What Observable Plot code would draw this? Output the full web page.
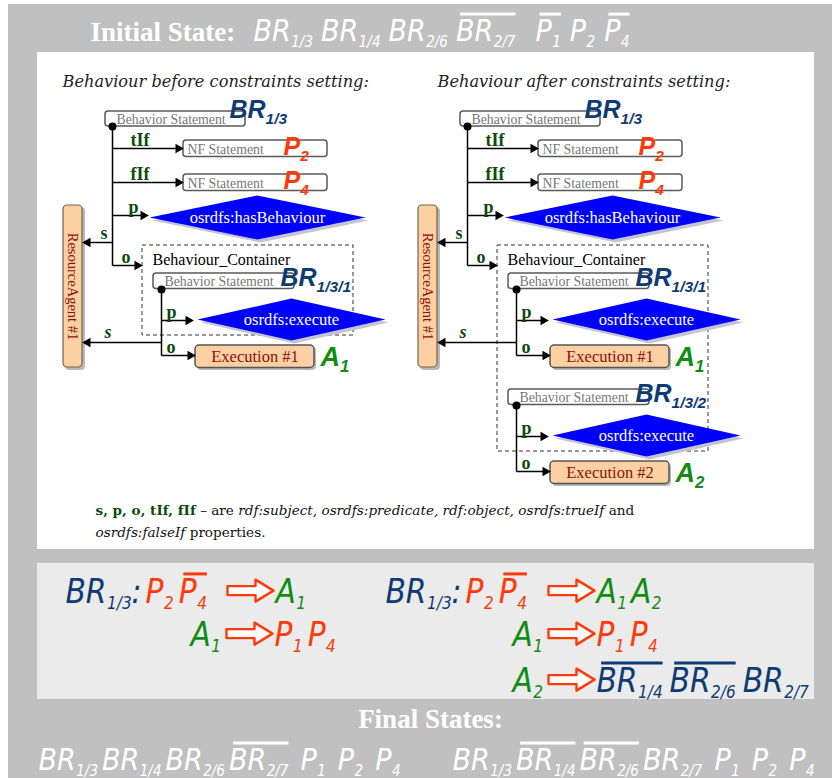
<!DOCTYPE html>
<html><head><meta charset="utf-8">
<script src="https://cdn.jsdelivr.net/npm/d3@7"></script>
<script src="https://cdn.jsdelivr.net/npm/@observablehq/plot@0.6"></script>
<style>html,body{margin:0;padding:0;background:#fff}#chart svg{display:block}</style>
</head><body><div id="chart"></div>
<script>
// ================= content (text / categories) =================
const headerTitle = "Initial State:";
const initialState = [
  {b:"BR", s:"1/3"}, {b:"BR", s:"1/4"}, {b:"BR", s:"2/6"}, {b:"BR", s:"2/7", neg:true},
  {b:"P", s:"1", neg:true}, {b:"P", s:"2"}, {b:"P", s:"4", neg:true}
];
const finalTitle = "Final States:";
const finalLeft = [
  {b:"BR", s:"1/3"}, {b:"BR", s:"1/4"}, {b:"BR", s:"2/6"}, {b:"BR", s:"2/7", neg:true},
  {b:"P", s:"1"}, {b:"P", s:"2"}, {b:"P", s:"4"}
];
const finalRight = [
  {b:"BR", s:"1/3"}, {b:"BR", s:"1/4", neg:true}, {b:"BR", s:"2/6", neg:true}, {b:"BR", s:"2/7"},
  {b:"P", s:"1"}, {b:"P", s:"2"}, {b:"P", s:"4"}
];
const panelTitles = ["Behaviour before constraints setting:", "Behaviour after constraints setting:"];
const stmtText = "Behavior Statement";
const nfText = "NF Statement";
const containerText = "Behaviour_Container";
const agentText = "ResourceAgent #1";
const predicateTop = "osrdfs:hasBehaviour";
const predicateInner = "osrdfs:execute";
const topRule = {b:"BR", s:"1/3"};
const nfConditions = [{lab:"tIf", tok:{b:"P", s:"2"}}, {lab:"fIf", tok:{b:"P", s:"4"}}];
// inner behaviour statements per diagram (before / after)
const innerStatements = [
  [{s:"1/3/1", exec:"Execution #1", a:"1"}],
  [{s:"1/3/1", exec:"Execution #1", a:"1"}, {s:"1/3/2", exec:"Execution #2", a:"2"}]
];
const rulesLeft = [
  [{b:"BR", s:"1/3", suf:":"}, {b:"P", s:"2"}, {b:"P", s:"4", neg:true}, "=>", {b:"A", s:"1"}],
  [{b:"A", s:"1"}, "=>", {b:"P", s:"1"}, {b:"P", s:"4"}]
];
const rulesRight = [
  [{b:"BR", s:"1/3", suf:":"}, {b:"P", s:"2"}, {b:"P", s:"4", neg:true}, "=>", {b:"A", s:"1"}, {b:"A", s:"2"}],
  [{b:"A", s:"1"}, "=>", {b:"P", s:"1"}, {b:"P", s:"4"}],
  [{b:"A", s:"2"}, "=>", {b:"BR", s:"1/4", neg:true}, {b:"BR", s:"2/6", neg:true}, {b:"BR", s:"2/7"}]
];
const footnote = [
  [{t:"s, p, o, tIf, fIf", k:"b"}, {t:" \u2013 are ", k:"r"}, {t:"rdf:subject, osrdfs:predicate, rdf:object, osrdfs:trueIf", k:"i"}, {t:" and", k:"r"}],
  [{t:"osrdfs:falseIf", k:"i"}, {t:" properties.", k:"r"}]
];

// ================= styling / layout =================
const W = 832, H = 778;
const C = {gray:"#c0c0c0", light:"#ebebeb", blue:"#0e3b74", red:"#ff3a0a", green:"#128c14",
           lab:"#0b4a0b", dred:"#8b1010", peach:"#fbd0a2", box:"#5a5a5a"};
const SERIF = "'Liberation Serif','Times New Roman',serif";
const DSERIF = "'DejaVu Serif',serif";
const SANS = "'Liberation Sans',Arial,sans-serif";
const NARROW = "'Liberation Sans Narrow','DejaVu Sans Condensed','Arial Narrow',sans-serif";
const tokColor = {B:C.blue, P:C.red, A:C.green};

const ctx = document.createElement("canvas").getContext("2d");
const fontStr = f => `${f.st||"normal"} ${f.wt||"normal"} ${f.fs}px ${f.fam}`;
const tw = (t, f) => { ctx.font = fontStr(f); return ctx.measureText(t).width; };

const texts = [], lines = [], overs = [], heads = [], dots = [], polys = [];
const rects = {bg:[], white:[], light:[], stmt:[], exec:[], agent:[], cont:[], shade:[]};
const addText = o => texts.push(o);

const ARROW_W = 46;
const ARROW_SHAPE = [[0,-4.5],[28,-4.5],[28,-11],[46,0],[28,11],[28,4.5],[0,4.5]];
let polyId = 0;
function addPoly(pts, kind){ const id = polyId++; pts.forEach(([x,y]) => polys.push({id, kind, x, y})); }

function expr(items, x0, yb, f, arrowX){
  let x = x0;
  items.forEach((it, i) => {
    const prev = items[i-1];
    if (i > 0){
      if (it === "=>") x = arrowX;
      else if (prev === "=>") x += f.gapAfterArrow;
      else if (prev.b !== it.b) x += f.groupGap;
      else x += f.gaps[it.b];
    }
    if (it === "=>"){
      const cy = yb - f.fs*0.36;
      addPoly(ARROW_SHAPE.map(([dx,dy]) => [x+dx, cy+dy]), "arrow");
      x += ARROW_W; return;
    }
    const c = f.color || tokColor[it.b[0]];
    const main = {fam:f.fam, st:f.st, wt:f.wt, fs:f.fs};
    const sub = {...main, fs:f.sub};
    addText({x, y:yb, t:it.b, c, ...main});
    let xe = x + tw(it.b, main);
    if (it.s){ addText({x:xe+f.subDx, y:yb+f.subDy, t:it.s, c, ...sub}); xe += f.subDx + tw(it.s, sub); }
    if (it.suf){ addText({x:xe, y:yb, t:it.suf, c, ...main}); xe += tw(it.suf, main); }
    if (it.neg){ const oy = yb - f.fs*0.73 - 4.5; overs.push({x1:x + f.fs*0.14, x2:xe, y1:oy, y2:oy, c}); }
    x = xe;
  });
}

const HEAD = {fam:NARROW, st:"italic", wt:"normal", fs:30, sub:15, subDx:0.5, subDy:6, gaps:{BR:8, P:9}, groupGap:20, color:"#fff"};
const FINAL = {...HEAD, gaps:{BR:4, P:12}, groupGap:12};
const FORM = {fam:NARROW, st:"italic", wt:"normal", fs:33, sub:17, subDx:0.5, subDy:6, gaps:{BR:7, P:5, A:4}, groupGap:4, gapAfterArrow:2};
const DIAG = {fam:SANS, st:"italic", wt:"bold", fs:24, sub:15, subDx:0, subDy:6, gaps:{}, groupGap:0};

// ---- frame ----
rects.bg.push({x1:8, y1:4, x2:W, y2:H});
rects.white.push({x1:37, y1:52, x2:814, y2:549});
rects.light.push({x1:37, y1:563, x2:814, y2:699});

// ---- header ----
addText({x:90, y:40, t:headerTitle, c:"#fff", fam:SERIF, wt:"bold", fs:27});
expr(initialState, 253, 40, HEAD);

// ---- helpers ----
function branch(x1, y, x2){ lines.push({x1, y1:y, x2:x2-5, y2:y}); heads.push({x:x2-5.2, y, r:90}); }
function branchLeft(x1, y, x2){ lines.push({x1, y1:y, x2:x2+5, y2:y}); heads.push({x:x2+5.2, y, r:-90}); }
function diamond(cx, cy, hw, hh, label){
  addPoly([[cx-hw+3,cy+3],[cx+3,cy-hh+3],[cx+hw+3,cy+3],[cx+3,cy+hh+3]], "shadow");
  addPoly([[cx-hw,cy],[cx,cy-hh],[cx+hw,cy],[cx,cy+hh]], "diamond");
  addText({x:cx, y:cy, t:label, c:"#fff", fam:SERIF, fs:16.5, anchor:"middle", line:"middle"});
}
function labelTok(tok, x, yb, fs){ expr([tok], x, yb, {...DIAG, fs, sub:fs*0.62}); }
function propLabel(t, x, yb){ addText({x, y:yb, t, c:C.lab, fam:SERIF, wt:"bold", fs:18}); }

// ---- diagrams ----
const titleX = [62, 437];
function diagram(side, dx){
  const X = v => v + dx;
  addText({x:titleX[side], y:86, t:panelTitles[side], c:"#222", fam:DSERIF, st:"italic", fs:16.2});
  // top behaviour statement
  rects.stmt.push({x1:X(105), y1:111, x2:X(245), y2:126});
  addText({x:X(116), y:123.5, t:stmtText, c:"#777", fam:SERIF, fs:13.8});
  labelTok(topRule, X(229), 117, 25);
  dots.push({x:X(112), y:126});
  lines.push({x1:X(112), y1:126, x2:X(112), y2:265});
  // NF conditions
  nfConditions.forEach((nf, i) => {
    const y = 148 + i*34;
    branch(X(112), y, X(183));
    propLabel(nf.lab, X(130), y-3);
    rects.stmt.push({x1:X(183), y1:y-8, x2:X(327), y2:y+8.5});
    addText({x:X(187), y:y+5, t:nfText, c:"#777", fam:SERIF, fs:13.8});
    labelTok(nf.tok, X(283), y+6, 25);
  });
  // predicate
  branch(X(112), 215, X(148));
  propLabel("p", X(128), 212);
  diamond(X(257), 217, 108, 22, predicateTop);
  // subject -> agent
  branchLeft(X(112), 242, X(82));
  propLabel("s", X(100), 238);
  rects.shade.push({x1:X(65), y1:207, x2:X(85), y2:370});
  rects.agent.push({x1:X(63), y1:205, x2:X(82), y2:367});
  addText({x:X(72.5), y:286, t:agentText, c:C.dred, fam:SERIF, fs:14.5, anchor:"middle", line:"middle", rot:90});
  // object -> container
  branch(X(112), 265, X(142));
  propLabel("o", X(121), 262);
  const inner = innerStatements[side];
  const last = 273 + (inner.length-1)*116;
  rects.cont.push({x1:X(142), y1:245, x2:X(353), y2:last+62});
  addText({x:X(152), y:264, t:containerText, c:"#000", fam:SERIF, fs:16});
  inner.forEach((st, k) => {
    const y0 = 273 + k*116;
    rects.stmt.push({x1:X(153), y1:y0, x2:X(294), y2:y0+15.5});
    addText({x:X(164), y:y0+12.5, t:stmtText, c:"#777", fam:SERIF, fs:13.8});
    labelTok({b:"BR", s:st.s}, X(280), y0+12, 25);
    dots.push({x:X(161), y:y0+16});
    lines.push({x1:X(161), y1:y0+16, x2:X(161), y2:y0+82});
    branch(X(161), y0+47, X(193));
    propLabel("p", X(166), y0+44);
    diamond(X(291), y0+46, 94, 21, predicateInner);
    if (k === 0){
      branchLeft(X(161), y0+69, X(82));
      addText({x:X(104), y:y0+64, t:"s", c:C.lab, fam:SERIF, wt:"bold", st:"italic", fs:18});
    }
    branch(X(161), y0+82, X(195));
    propLabel("o", X(166), y0+79);
    rects.shade.push({x1:X(197), y1:y0+74, x2:X(316), y2:y0+97});
    rects.exec.push({x1:X(195), y1:y0+72, x2:X(314), y2:y0+94.5});
    addText({x:X(254.5), y:y0+83.5, t:st.exec, c:C.dred, fam:SERIF, fs:16.5, anchor:"middle", line:"middle"});
    labelTok({b:"A", s:st.a}, X(320), y0+92, 27);
  });
}
diagram(0, 0);
diagram(1, 355);

// ---- footnote ----
footnote.forEach((line, li) => {
  let x = 95; const y = 514 + li*22;
  line.forEach(seg => {
    const f = {fam:DSERIF, fs:13.6, wt: seg.k==="b" ? "bold" : "normal", st: seg.k==="i" ? "italic" : "normal"};
    addText({x, y, t:seg.t, c: seg.k==="b" ? C.lab : "#111", ...f});
    x += tw(seg.t, f);
  });
});

// ---- rules (light panel) ----
expr(rulesLeft[0], 65, 602, FORM, 227);
expr(rulesLeft[1], 190, 645, FORM, 226);
expr(rulesRight[0], 385, 602, FORM, 548);
expr(rulesRight[1], 512, 645, FORM, 548);
expr(rulesRight[2], 512, 691, FORM, 548);

// ---- final states ----
addText({x:430, y:727, t:finalTitle, c:"#fff", fam:SERIF, wt:"bold", fs:27, anchor:"middle"});
expr(finalLeft, 38, 769, FINAL);
expr(finalRight, 452, 769, FINAL);

// ================= plot =================
function textMarks(recs){
  const groups = d3.group(recs, d => [d.fam, d.st||"normal", d.wt||"normal", d.anchor||"start", d.line||"bottom", d.rot||0].join("|"));
  return Array.from(groups, ([k, arr]) => {
    const [fam, st, wt, anchor, line, rot] = k.split("|");
    return Plot.text(arr, {x:"x", y:"y", text:"t", fill:"c", fontSize:"fs", fontFamily:fam, fontStyle:st,
      fontWeight:wt, textAnchor:anchor, lineAnchor:line, rotate:+rot});
  });
}
const R = (data, o) => Plot.rect(data, {x1:"x1", y1:"y1", x2:"x2", y2:"y2", ...o});

const chart = Plot.plot({
  width: W, height: H, margin: 0,
  x: {type:"identity", axis:null}, y: {type:"identity", axis:null}, color: {type:"identity"},
  style: {background:"#fff"},
  marks: [
    R(rects.bg, {fill:C.gray}),
    R(rects.white, {fill:"#fff"}),
    R(rects.light, {fill:C.light}),
    R(rects.cont, {fill:"none", stroke:"#333", strokeWidth:1, strokeDasharray:"4,3"}),
    R(rects.shade, {fill:"#b9b9b9", rx:4}),
    R(rects.agent, {fill:C.peach, stroke:"#7a6048", strokeWidth:1.2, rx:4}),
    R(rects.exec, {fill:C.peach, stroke:"#555", strokeWidth:1.5, rx:4}),
    R(rects.stmt, {fill:"#fff", stroke:C.box, strokeWidth:1.5, rx:3}),
    Plot.link(lines, {x1:"x1", y1:"y1", x2:"x2", y2:"y2", stroke:"#000", strokeWidth:1.5}),
    Plot.dot(heads, {x:"x", y:"y", rotate:"r", symbol:"triangle", r:3.6, fill:"#000", stroke:null}),
    Plot.dot(dots, {x:"x", y:"y", r:4, fill:"#000"}),
    Plot.line(polys.filter(d => d.kind==="shadow"), {x:"x", y:"y", z:"id", fill:"#c4c4d4", stroke:null, curve:"linear-closed"}),
    Plot.line(polys.filter(d => d.kind==="diamond"), {x:"x", y:"y", z:"id", fill:"#0000ff", stroke:null, curve:"linear-closed"}),
    Plot.line(polys.filter(d => d.kind==="arrow"), {x:"x", y:"y", z:"id", fill:"#fff", stroke:C.red, strokeWidth:2.4, curve:"linear-closed"}),
    ...textMarks(texts),
    Plot.link(overs, {x1:"x1", y1:"y1", x2:"x2", y2:"y2", stroke:"c", strokeWidth:3})
  ]
});
document.getElementById("chart").append(chart);
</script>
</body></html>
